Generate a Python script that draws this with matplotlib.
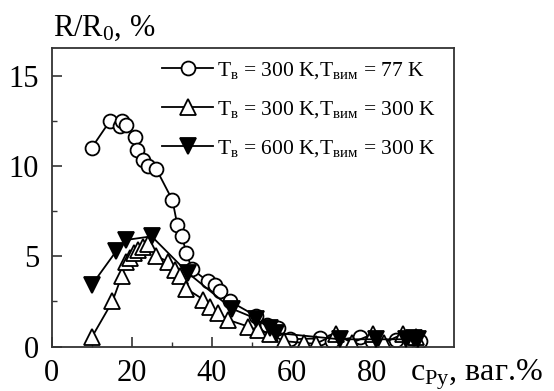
import matplotlib
matplotlib.use("Agg")
import matplotlib.pyplot as plt
from matplotlib.ticker import MultipleLocator, FixedLocator

plt.rcParams['font.family'] = ['Liberation Serif', 'DejaVu Serif']
plt.rcParams['mathtext.fontset'] = 'custom'
plt.rcParams['mathtext.rm'] = 'Liberation Serif'
plt.rcParams['mathtext.it'] = 'Liberation Serif:italic'
plt.rcParams['mathtext.bf'] = 'Liberation Serif:bold'

# Series 1: T_в = 300 K, T_вим = 77 K (open circles)
x_c = [10.0, 14.6, 17.1, 17.5, 18.6, 20.8, 21.4, 22.9, 24.2, 26.1, 30.2, 31.4,
       32.5, 33.7, 35.0, 39.1, 40.9, 42.1, 44.6, 51.0, 53.8, 56.6, 59.6, 67.0,
       70.0, 77.0, 80.0, 86.0, 90.0, 92.0]
y_c = [11.0, 12.5, 12.2, 12.5, 12.25, 11.6, 10.9, 10.35, 10.0, 9.85, 8.1, 6.75,
       6.1, 5.2, 4.3, 3.6, 3.4, 3.1, 2.5, 1.7, 1.2, 1.0, 0.4, 0.45,
       0.3, 0.55, 0.3, 0.35, 0.45, 0.3]

# Series 2: T_в = 300 K, T_вим = 300 K (open triangles up)
x_t = [10.0, 15.2, 17.5, 18.7, 19.5, 20.5, 21.7, 22.9, 24.2, 26.0, 29.2, 30.8,
       32.0, 33.7, 37.9, 39.6, 41.7, 44.2, 49.2, 51.6, 54.6, 58.0, 63.0, 66.0,
       71.2, 75.0, 80.4, 83.0, 87.9, 91.2]
y_t = [0.5, 2.5, 3.9, 4.7, 4.9, 5.2, 5.35, 5.5, 5.7, 5.0, 4.7, 4.25,
       3.9, 3.2, 2.6, 2.2, 1.85, 1.47, 1.1, 0.9, 0.7, 0.3, 0.2, 0.15,
       0.7, 0.2, 0.7, 0.2, 0.7, 0.55]

# Series 3: T_в = 600 K, T_вим = 300 K (filled triangles down)
x_v = [10.0, 16.2, 18.6, 25.0, 34.2, 45.0, 51.0, 54.6, 56.2, 72.0, 81.2, 88.7,
       90.5, 91.5]
y_v = [3.4, 5.3, 5.9, 6.1, 4.05, 2.1, 1.55, 1.0, 0.75, 0.4, 0.4, 0.4,
       0.45, 0.4]

labels = [r'$\mathregular{T_{в}}$ = 300 K,$\mathregular{T_{вим}}$ = 77 K',
          r'$\mathregular{T_{в}}$ = 300 K,$\mathregular{T_{вим}}$ = 300 K',
          r'$\mathregular{T_{в}}$ = 600 K,$\mathregular{T_{вим}}$ = 300 K']

x_ticks = [0, 20, 40, 60, 80]
y_ticks = [0, 5, 10, 15]

fig = plt.figure(figsize=(5.54, 3.91), dpi=100)
ax = fig.add_axes([0.0933, 0.1138, 0.7262, 0.7622])

ms = 10
l1, = ax.plot(x_c, y_c, '-', color='black', lw=1.3, marker='o', ms=ms,
              mfc='white', mec='black', mew=1.3, label=labels[0])
l2, = ax.plot(x_t, y_t, '-', color='black', lw=1.3, marker='^', ms=ms + 1,
              mfc='white', mec='black', mew=1.3, label=labels[1])
l3, = ax.plot(x_v, y_v, '-', color='black', lw=1.3, marker='v', ms=ms + 1,
              mfc='black', mec='black', mew=1.3, label=labels[2])
l3.set_zorder(3)

ax.set_xlim(0, 100.6)
ax.set_ylim(0, 16.5)
ax.xaxis.set_major_locator(FixedLocator(x_ticks))
ax.xaxis.set_minor_locator(FixedLocator([10, 30, 50, 70, 90]))
ax.yaxis.set_major_locator(FixedLocator(y_ticks))
ax.yaxis.set_minor_locator(MultipleLocator(2.5))

for s in ax.spines.values():
    s.set_color('#333333')
    s.set_linewidth(1.3)

ax.tick_params(which='both', direction='in', top=False, right=False,
               colors='#333333', labelcolor='black', labelsize=22)
ax.tick_params(which='major', length=7, width=1.2)
ax.tick_params(which='minor', length=3.5, width=1.0)
ax.tick_params(axis='y', which='major', pad=9)
ax.tick_params(axis='x', which='major', pad=9)

fig.text(53 / 554, 1 - 36 / 391, r'R/R$\mathregular{_0}$, %', fontsize=22,
         ha='left', va='baseline')
fig.text(410 / 554, 1 - 381 / 391, r'c$\mathregular{_{Py}}$, ваг.%', fontsize=23,
         ha='left', va='baseline')

leg = ax.legend(handles=[l1, l2, l3], loc='upper left',
                bbox_to_anchor=(161.7 / 554, 1 - 60 / 391),
                bbox_transform=fig.transFigure, frameon=False, fontsize=15.5,
                handlelength=2.4, handletextpad=0.15, labelspacing=0.85,
                borderpad=0, borderaxespad=0)

fig.savefig('out.png', dpi=100)
